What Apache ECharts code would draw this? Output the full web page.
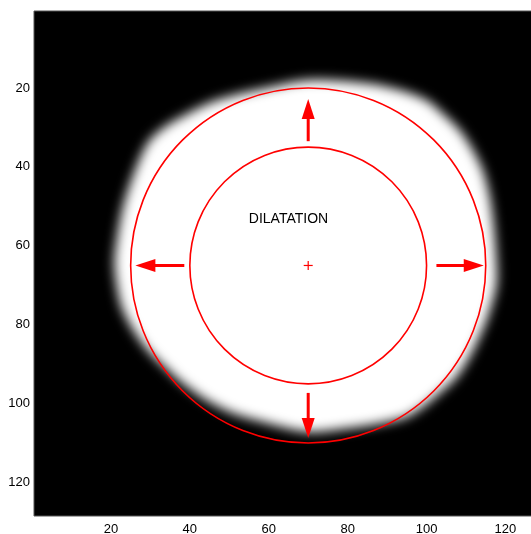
<!DOCTYPE html>
<html>
<head>
<meta charset="utf-8">
<script src="https://cdn.jsdelivr.net/npm/echarts@6/dist/echarts.min.js"></script>
<style>
html,body{margin:0;padding:0;background:#fff;}
#chart{width:531px;height:534px;}
</style>
</head>
<body>
<div id="chart"></div>
<script>
// ---- data ----
const xTicks = [20, 40, 60, 80, 100, 120];
const yTicks = [20, 40, 60, 80, 100, 120];

// outline (half-intensity contour) of the bright blob, clockwise from the top
const blobX = [70.1,84.8,93.2,100.0,104.0,108.4,111.7,114.2,116.0,117.0,117.7,117.7,115.5,113.4,110.9,107.6,103.3,99.0,94.9,88.8,80.5,70.3,59.4,50.8,44.2,38.1,33.6,29.3,25.7,22.7,21.4,20.9,21.4,22.9,25.5,29.3,33.6,38.7,45.0,52.6,59.4];
const blobY = [18.0,18.8,20.5,23.1,26.4,30.7,35.7,40.8,47.6,54.7,63.6,70.0,78.1,83.1,88.2,93.3,97.3,100.9,103.4,104.9,106.2,107.2,104.9,102.4,99.1,94.8,90.7,86.4,81.4,75.5,69.5,64.1,59.3,50.9,42.6,34.0,29.9,26.9,23.8,21.5,20.0];

// circles
const circleX = [70, 70];
const circleY = [65, 65];
const circleR = [30, 45];

// arrows (tail -> tip)
const arrowTailX = [70, 38.6, 102.5, 70];
const arrowTailY = [33.5, 65, 65, 97.3];
const arrowTipX  = [70, 26.2, 114.5, 70];
const arrowTipY  = [22.8, 65, 65, 108.7];

// centre marker
const centerX = [70];
const centerY = [65];

// annotation
const labelText = ['DILATATION'];
const labelX = [65];
const labelY = [53.2];

const RED = '#ff0000';
const FONT = "'Liberation Sans', Arial, sans-serif";

const chart = echarts.init(document.getElementById('chart'), null, {renderer: 'canvas'});

const axisCommon = {
  type: 'value',
  min: 0.5,
  max: 128.5,
  splitLine: {show: false},
  axisTick: {show: false},
  axisLine: {show: false}
};

const OFF = 3000;

const option = {
  animation: false,
  backgroundColor: '#ffffff',
  grid: {
    left: 34, top: 11, width: 505, height: 505,
    show: true, backgroundColor: '#000000', borderColor: '#555555', borderWidth: 1,
    containLabel: false,
    outerBoundsMode: 'none'
  },
  xAxis: Object.assign({}, axisCommon, {
    axisLabel: {customValues: xTicks, color: '#000', fontSize: 13, fontFamily: FONT, margin: 7}
  }),
  yAxis: Object.assign({}, axisCommon, {
    inverse: true,
    axisLabel: {customValues: yTicks, color: '#000', fontSize: 13, fontFamily: FONT, margin: 4}
  }),
  series: [
    {
      // soft bright blob: only the blurred shadow of the outline is visible
      type: 'custom',
      clip: false,
      silent: true,
      data: [[blobX[0], blobY[0]]],
      renderItem: function (params, api) {
        const pts = blobX.map(function (x, i) {
          const p = api.coord([x, blobY[i]]);
          return [p[0] - OFF, p[1]];
        });
        return {
          type: 'polygon',
          shape: {points: pts, smooth: 0.3},
          style: {fill: '#ffffff', shadowBlur: 12, shadowColor: '#ffffff', shadowOffsetX: OFF, shadowOffsetY: 0}
        };
      }
    },
    {
      type: 'custom',
      silent: true,
      data: circleR.map(function (r, i) { return [circleX[i], circleY[i], r]; }),
      renderItem: function (params, api) {
        const c = api.coord([api.value(0), api.value(1)]);
        const s = api.size([api.value(2), api.value(2)]);
        return {
          type: 'circle',
          shape: {cx: c[0], cy: c[1], r: s[0]},
          style: {fill: 'none', stroke: RED, lineWidth: 1.6}
        };
      }
    },
    {
      type: 'custom',
      silent: true,
      data: arrowTailX.map(function (x, i) { return [x, arrowTailY[i], arrowTipX[i], arrowTipY[i]]; }),
      renderItem: function (params, api) {
        const a = api.coord([api.value(0), api.value(1)]);
        const b = api.coord([api.value(2), api.value(3)]);
        const dx = b[0] - a[0], dy = b[1] - a[1];
        const len = Math.sqrt(dx * dx + dy * dy);
        const ux = dx / len, uy = dy / len;
        const nx = -uy, ny = ux;
        const hl = 20, hw = 6.5;
        const bx = b[0] - ux * hl, by = b[1] - uy * hl;
        return {
          type: 'group',
          children: [
            {type: 'line', shape: {x1: a[0], y1: a[1], x2: bx + ux, y2: by + uy},
             style: {stroke: RED, lineWidth: 3}},
            {type: 'polygon', shape: {points: [[b[0], b[1]], [bx + nx * hw, by + ny * hw], [bx - nx * hw, by - ny * hw]]},
             style: {fill: RED}}
          ]
        };
      }
    },
    {
      type: 'custom',
      silent: true,
      data: centerX.map(function (x, i) { return [x, centerY[i]]; }),
      renderItem: function (params, api) {
        const c = api.coord([api.value(0), api.value(1)]);
        const h = 4.5;
        return {
          type: 'group',
          children: [
            {type: 'line', shape: {x1: c[0] - h, y1: c[1], x2: c[0] + h, y2: c[1]}, style: {stroke: RED, lineWidth: 1.2}},
            {type: 'line', shape: {x1: c[0], y1: c[1] - h, x2: c[0], y2: c[1] + h}, style: {stroke: RED, lineWidth: 1.2}}
          ]
        };
      }
    },
    {
      type: 'custom',
      silent: true,
      data: labelText.map(function (t, i) { return [labelX[i], labelY[i]]; }),
      renderItem: function (params, api) {
        const c = api.coord([api.value(0), api.value(1)]);
        return {
          type: 'text',
          x: c[0], y: c[1],
          style: {text: labelText[params.dataIndex], fill: '#000', font: '14px ' + FONT, align: 'center', verticalAlign: 'middle'}
        };
      }
    }
  ]
};

chart.setOption(option);
</script>
</body>
</html>
